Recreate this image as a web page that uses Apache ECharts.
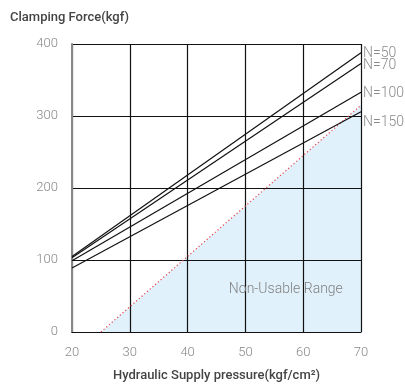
<!DOCTYPE html>
<html><head><meta charset="utf-8">
<script src="https://cdn.jsdelivr.net/npm/echarts@6/dist/echarts.min.js"></script>
<style>html,body{margin:0;padding:0;background:#fff}#c{width:405px;height:392px}</style>
</head><body><div id="c"></div>
<script>
var xTicks = [20, 30, 40, 50, 60, 70];
var yTicks = [0, 100, 200, 300, 400];
var seriesNames = ['N=50', 'N=70', 'N=100', 'N=150'];
var pressures = [20, 70];
var n50 = [105, 388];
var n70 = [103, 373];
var n100 = [99, 333];
var n150 = [89, 306];
var limitX = [25, 70];
var limitY = [0, 315];
var regionLabel = 'Non-Usable Range';
var regionLabelPos = [57, 59];

var lineVals = [n50, n70, n100, n150];
var labelOffsets = [[0, 1], [0, 2], [0, 1], [0, 11]];
var font = 'Roboto, "DejaVu Sans", sans-serif';

var series = [];
series.push({
  type: 'line', z: 0, silent: true, symbol: 'none',
  data: limitX.map(function (x, i) { return [x, limitY[i]]; }),
  lineStyle: { width: 0, opacity: 0 },
  areaStyle: { color: '#e1f1fb', opacity: 1 },
  markPoint: {
    symbol: 'circle', symbolSize: 0,
    data: [{ coord: regionLabelPos, value: regionLabel }],
    label: { show: true, formatter: regionLabel, color: '#808080', fontSize: 14, fontFamily: font, fontWeight: 300 }
  }
});
series.push({
  type: 'line', z: 4, silent: true, symbol: 'none',
  data: limitX.map(function (x, i) { return [x, limitY[i]]; }),
  lineStyle: { width: 1.2, color: '#e8404a', type: [1.2, 2.4] }
});
lineVals.forEach(function (vals, k) {
  series.push({
    type: 'line', z: 5, name: seriesNames[k], silent: true,
    symbol: 'none',
    data: pressures.map(function (p, i) { return [p, vals[i]]; }),
    lineStyle: { color: '#111', width: 1.2 },
    endLabel: {
      show: true, formatter: seriesNames[k], distance: 2,
      offset: labelOffsets[k],
      color: '#8a8a8a', fontSize: 14, fontFamily: font, fontWeight: 300
    }
  });
});

var chart = echarts.init(document.getElementById('c'), null, { renderer: 'canvas' });
chart.setOption({
  animation: false,
  backgroundColor: '#fff',
  title: {
    text: 'Clamping Force(kgf)', left: 5, top: 6,
    textStyle: { fontSize: 13, fontWeight: 500, color: '#444', fontFamily: font }
  },
  grid: { left: 72, right: 44, top: 44, bottom: 60 },
  xAxis: {
    type: 'value', min: xTicks[0], max: xTicks[xTicks.length - 1], interval: 10, z: 1,
    name: 'Hydraulic Supply pressure(kgf/cm²)', nameLocation: 'middle', nameGap: 37,
    nameTextStyle: { fontSize: 13, fontWeight: 500, color: '#444', fontFamily: font },
    axisLine: { show: true, lineStyle: { color: '#111', width: 1.2 } },
    axisTick: { show: false },
    axisLabel: { color: '#888', fontSize: 13, fontFamily: font, fontWeight: 300, margin: 14 },
    splitLine: { show: true, lineStyle: { color: '#111', width: 1.2 } }
  },
  yAxis: {
    type: 'value', min: yTicks[0], max: yTicks[yTicks.length - 1], interval: 100, z: 1,
    axisLine: { show: true, lineStyle: { color: '#888', width: 2 } },
    axisTick: { show: false },
    axisLabel: { color: '#888', fontSize: 13, fontFamily: font, fontWeight: 300, margin: 14 },
    splitLine: { show: true, lineStyle: { color: '#111', width: 1.2 } }
  },
  series: series
});
</script></body></html>
